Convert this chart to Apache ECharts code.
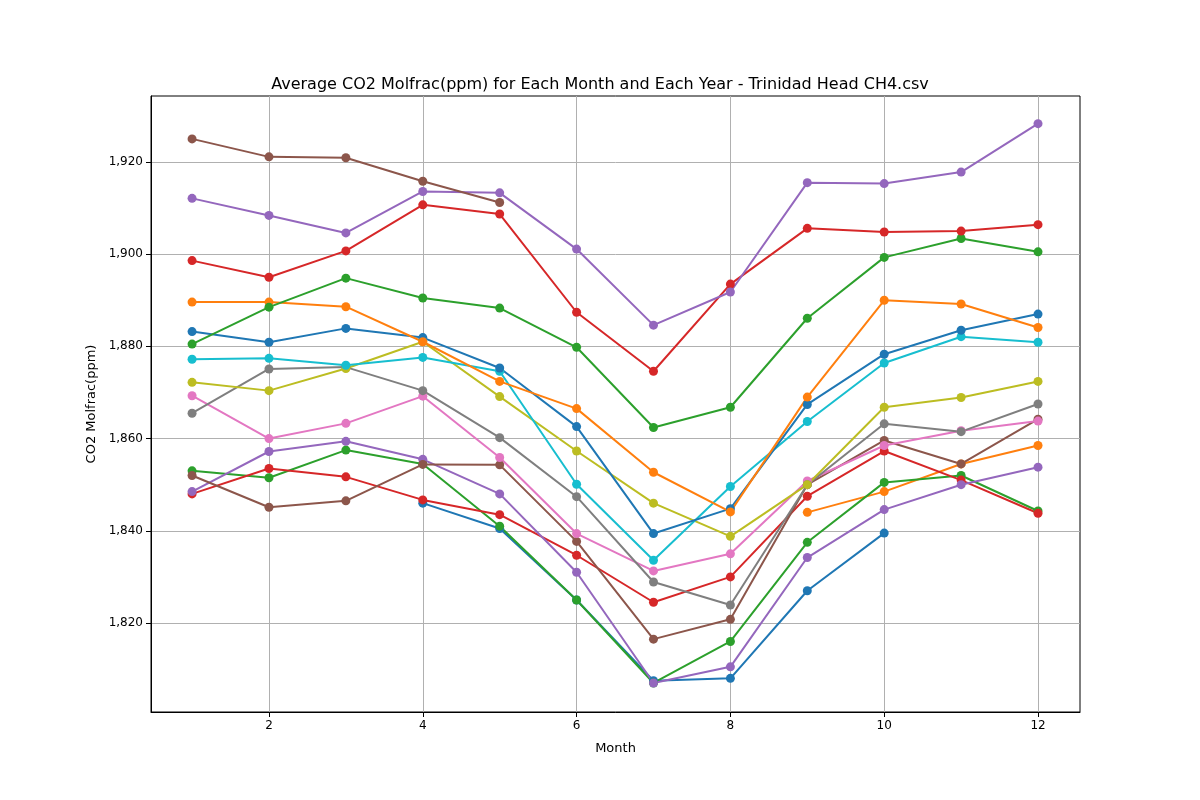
<!DOCTYPE html>
<html>
<head>
<meta charset="utf-8">
<script src="https://cdn.jsdelivr.net/npm/echarts@6/dist/echarts.min.js"></script>
<style>html,body{margin:0;background:#fff}#chart{width:1200px;height:800px}</style>
</head>
<body>
<div id="chart"></div>
<script>
var months = [1, 2, 3, 4, 5, 6, 7, 8, 9, 10, 11, 12];
var xTicks = [2, 4, 6, 8, 10, 12];
var yTicks = [1820, 1840, 1860, 1880, 1900, 1920];
var colors = ['#1f77b4', '#ff7f0e', '#2ca02c', '#d62728', '#9467bd', '#8c564b', '#e377c2', '#7f7f7f', '#bcbd22', '#17becf'];

// one row per year, null where that month is missing
var year01 = [null, null, null, 1846, 1840.5, 1825, 1807.5, 1808, 1827, 1839.5, null, null];
var year02 = [null, null, null, null, null, null, null, null, 1844, 1848.5, 1854.5, 1858.5];
var year03 = [1853, 1851.5, 1857.5, 1854.5, 1841, 1825, 1807, 1816, 1837.5, 1850.5, 1852, 1844.3];
var year04 = [1848, 1853.5, 1851.7, 1846.7, 1843.5, 1834.7, 1824.5, 1830, 1847.5, 1857.3, 1851, 1843.8];
var year05 = [1848.5, 1857.2, 1859.4, 1855.5, 1848, 1831, 1807, 1810.5, 1834.2, 1844.6, 1850, 1853.8];
var year06 = [1852, 1845.1, 1846.5, 1854.4, 1854.3, 1837.7, 1816.5, 1820.8, 1850, 1859.6, 1854.5, 1864.2];
var year07 = [1869.3, 1860, 1863.3, 1869.2, 1855.9, 1839.4, 1831.3, 1835, 1850.8, 1858.5, 1861.7, 1863.8];
var year08 = [1865.5, 1875.1, 1875.5, 1870.4, 1860.2, 1847.4, 1828.9, 1823.9, 1850, 1863.2, 1861.5, 1867.5];
var year09 = [1872.2, 1870.4, 1875.2, 1881, 1869.1, 1857.3, 1846, 1838.8, 1850, 1866.8, 1868.9, 1872.4];
var year10 = [1877.2, 1877.4, 1875.9, 1877.6, 1874.6, 1850.1, 1833.6, 1849.6, 1863.7, 1876.4, 1882.1, 1880.9];
var year11 = [1883.2, 1880.9, 1883.9, 1881.9, 1875.3, 1862.6, 1839.4, 1844.8, 1867.4, 1878.3, 1883.5, 1887];
var year12 = [1889.6, 1889.6, 1888.6, 1881, 1872.4, 1866.5, 1852.7, 1844.1, 1869, 1890, 1889.2, 1884.1];
var year13 = [1880.5, 1888.5, 1894.8, 1890.5, 1888.3, 1879.8, 1862.4, 1866.8, 1886.1, 1899.3, 1903.4, 1900.5];
var year14 = [1898.6, 1895, 1900.7, 1910.7, 1908.7, 1887.4, 1874.6, 1893.5, 1905.6, 1904.8, 1905, 1906.4];
var year15 = [1912.1, 1908.4, 1904.6, 1913.6, 1913.3, 1901.1, 1884.6, 1891.8, 1915.5, 1915.3, 1917.8, 1928.3];
var year16 = [1925, 1921.1, 1920.9, 1915.8, 1911.2, null, null, null, null, null, null, null];

var years = [year01, year02, year03, year04, year05, year06, year07, year08,
             year09, year10, year11, year12, year13, year14, year15, year16];

var series = years.map(function (vals, i) {
    return {
        type: 'line',
        data: months.map(function (m, j) { return [m, vals[j]]; }),
        connectNulls: false,
        symbol: 'circle',
        symbolSize: 9,
        color: colors[i % 10],
        lineStyle: { width: 2 },
        animation: false
    };
});

var chart = echarts.init(document.getElementById('chart'));
chart.setOption({
    backgroundColor: '#fff',
    title: {
        text: 'Average CO2 Molfrac(ppm) for Each Month and Each Year - Trinidad Head CH4.csv',
        left: 'center', top: 72,
        textStyle: { fontSize: 16, fontWeight: 'normal', color: '#000', fontFamily: 'DejaVu Sans' }
    },
    grid: { left: 151, right: 120, top: 96, bottom: 88, show: true, borderColor: '#000', borderWidth: 1 },
    xAxis: {
        type: 'value', min: 0.466, max: 12.546,
        name: 'Month', nameLocation: 'middle', nameGap: 30,
        nameTextStyle: { fontSize: 13, color: '#000', fontFamily: 'DejaVu Sans' },
        axisLine: { show: true, lineStyle: { color: '#000' } },
        axisTick: { show: true, customValues: xTicks, length: 5, lineStyle: { color: '#000' } },
        axisLabel: { customValues: xTicks, color: '#000', fontSize: 12, fontFamily: 'DejaVu Sans' },
        splitLine: { show: true, lineStyle: { color: '#b0b0b0', width: 1 } }
    },
    yAxis: {
        type: 'value', min: 1800.7, max: 1934.3,
        name: 'CO2 Molfrac(ppm)', nameLocation: 'middle', nameGap: 52,
        nameTextStyle: { fontSize: 13, color: '#000', fontFamily: 'DejaVu Sans' },
        axisLine: { show: true, lineStyle: { color: '#000' } },
        axisTick: { show: true, customValues: yTicks, length: 5, lineStyle: { color: '#000' } },
        axisLabel: { customValues: yTicks, color: '#000', fontSize: 12, fontFamily: 'DejaVu Sans' },
        splitLine: { show: true, lineStyle: { color: '#b0b0b0', width: 1 } }
    },
    series: series
});
</script>
</body>
</html>
